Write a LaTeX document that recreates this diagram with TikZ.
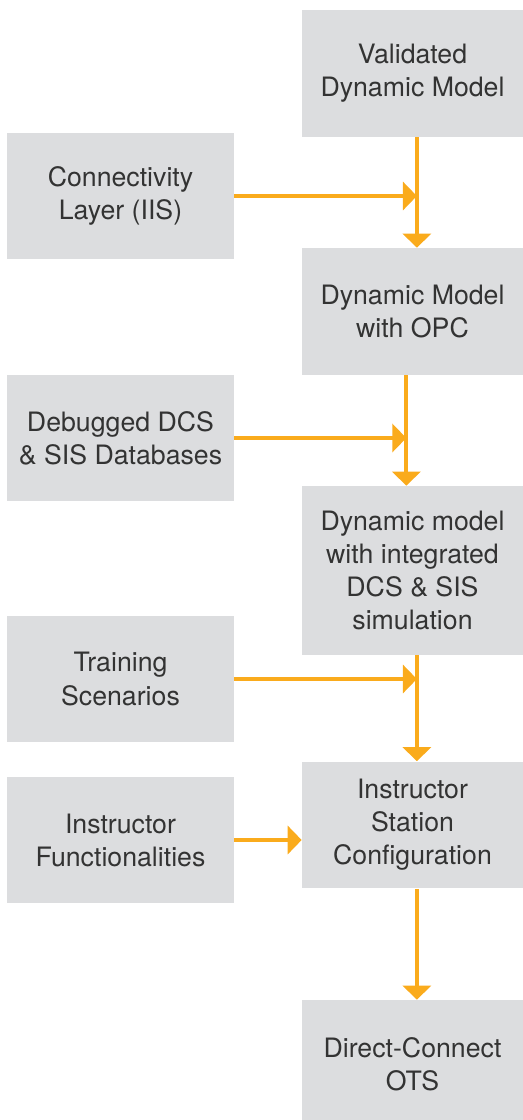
\documentclass[tikz,border=0pt]{standalone}
\usepackage{fontspec}
\setmainfont{TeX Gyre Heros}
\usetikzlibrary{arrows.meta}

\definecolor{boxgray}{HTML}{DCDDDF}
\definecolor{flowor}{HTML}{FAAB1C}
\definecolor{textgray}{HTML}{333333}

\begin{document}
\begin{tikzpicture}[x=0.02cm,y=-0.02cm,
    box/.style={fill=boxgray,draw=none,align=center,text=textgray,inner sep=0pt,
      font=\fontsize{15.2}{18.8}\selectfont},
    mainbox/.style={box,minimum width=4.42cm,minimum height=2.54cm},
    inbox/.style={box,minimum width=4.54cm,minimum height=2.52cm},
    flow/.style={draw=flowor,line width=2.3pt,-{Triangle[length=0.28cm,width=0.56cm]}}]
  \useasboundingbox (0,0) rectangle (523,1120);

  % main column
  \node[mainbox] (valid) at (412.5,73.5) {Validated\\Dynamic Model};
  \node[mainbox] (opc) at (412.5,311.5) {Dynamic Model\\with OPC};
  \node[mainbox,minimum height=3.38cm] (dcs) at (412.5,570.5)
    {Dynamic model\\with integrated\\DCS \& SIS\\simulation};
  \node[mainbox] (instr) at (412.5,825) {Instructor\\Station\\Configuration};
  \node[mainbox,minimum height=2.56cm] (ots) at (412.5,1064) {Direct-Connect\\OTS};

  % inputs
  \node[inbox] (conn) at (120.5,196) {Connectivity\\Layer (IIS)};
  \node[inbox] (debug) at (120.5,438) {Debugged DCS\\\& SIS Databases};
  \node[inbox] (train) at (120.5,679) {Training\\Scenarios};
  \node[inbox] (func) at (120.5,840) {Instructor\\Functionalities};

  % connectors
  \draw[flow] ([xshift=2.5]valid.south) -- ([xshift=2.5]opc.north);
  \draw[flow] ([xshift=-3.5]opc.south) -- ([xshift=-3.5]dcs.north);
  \draw[flow] ([xshift=2.5]dcs.south) -- ([xshift=2.5]instr.north);
  \draw[flow] ([xshift=2.5]instr.south) -- ([xshift=2.5]ots.north);

  \draw[flow] (conn.east) -- ([xshift=2.5]conn.east -| valid.south);
  \draw[flow] (debug.east) -- ([xshift=-3.5]debug.east -| opc.south);
  \draw[flow] (train.east) -- ([xshift=2.5]train.east -| dcs.south);
  \draw[flow] (func.east) -- (func.east -| instr.west);
\end{tikzpicture}
\end{document}
